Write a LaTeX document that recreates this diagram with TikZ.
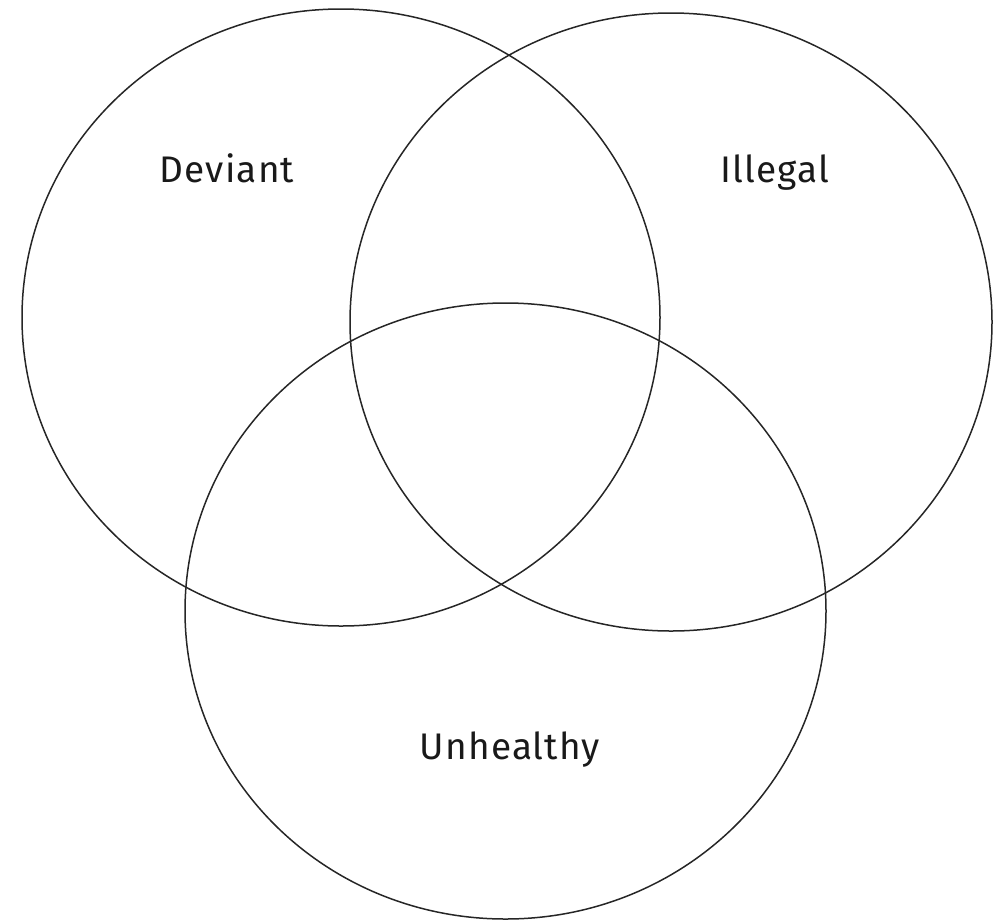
\documentclass[tikz,border=0pt]{standalone}
\usepackage{fontspec}
\setmainfont{Fira Sans}[LetterSpace=3]
\begin{document}
\begin{tikzpicture}[x=1pt,y=-1pt,
  setcirc/.style={draw=black!85, line width=1.5pt},
  setlabel/.style={font=\fontsize{37}{42}\selectfont, text=black!90, inner sep=0pt}]
\useasboundingbox (0,0) rectangle (1004,922);
\draw[setcirc] (341,317.5) ellipse [x radius=319, y radius=308.5];
\draw[setcirc] (671,322) ellipse [x radius=321, y radius=309];
\draw[setcirc] (505.5,611) ellipse [x radius=320.5, y radius=308];
\node[setlabel] (deviant) at (227,168) {Deviant};
\node[setlabel] (illegal) at (775,173) {Illegal};
\node[setlabel] (unhealthy) at (510,750) {Unhealthy};
\end{tikzpicture}
\end{document}
